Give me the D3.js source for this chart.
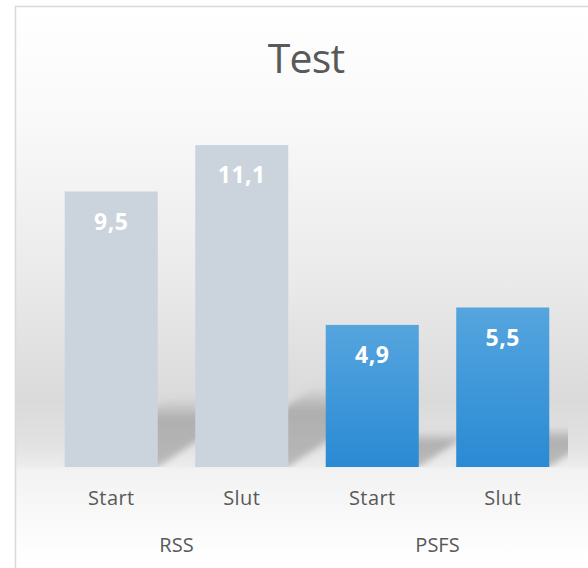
<!DOCTYPE html>
<html>
<head>
<meta charset="utf-8">
<script src="https://cdn.jsdelivr.net/npm/d3@7"></script>
<style>
  body { margin: 0; background: #fff; }
  svg { display: block; font-family: "Open Sans", sans-serif; }
</style>
</head>
<body>
<div id="chart"></div>
<script>
// chart values
const categories = ['Start', 'Slut', 'Start', 'Slut'];
const groupNames = ['RSS', 'PSFS'];
const barGroup = [0, 0, 1, 1];
const values = [9.5, 11.1, 4.9, 5.5];
const title = 'Test';

const width = 588, height = 568;
const plot = {left: 46, right: 568, top: 119, bottom: 467};

const svg = d3.select('#chart').append('svg')
    .attr('width', width)
    .attr('height', height);

const defs = svg.append('defs');

// background gradient of the chart area
const bg = defs.append('linearGradient')
    .attr('id', 'bg')
    .attr('gradientUnits', 'userSpaceOnUse')
    .attr('x1', 0).attr('x2', 0).attr('y1', 7).attr('y2', 568);
[[7, '#ffffff'], [120, '#f9f9f9'], [280, '#eaeaea'], [400, '#dadada'],
 [445, '#e2e2e2'], [466, '#ececec'], [469, '#f2f2f2'], [560, '#ffffff']]
    .forEach(function(s) {
        bg.append('stop').attr('offset', (s[0] - 7) / (568 - 7)).attr('stop-color', s[1]);
    });

const blue = defs.append('linearGradient')
    .attr('id', 'blue')
    .attr('x1', 0).attr('x2', 0).attr('y1', 0).attr('y2', 1);
blue.append('stop').attr('offset', 0).attr('stop-color', '#55a5de');
blue.append('stop').attr('offset', 1).attr('stop-color', '#2a8ad4');

const shade = defs.append('linearGradient')
    .attr('id', 'shade')
    .attr('x1', 0).attr('x2', 0).attr('y1', 0).attr('y2', 1);
shade.append('stop').attr('offset', 0).attr('stop-color', '#8a8a8a').attr('stop-opacity', 0);
shade.append('stop').attr('offset', 0.3).attr('stop-color', '#8a8a8a').attr('stop-opacity', 0.55);
shade.append('stop').attr('offset', 1).attr('stop-color', '#8a8a8a').attr('stop-opacity', 0.5);

defs.append('filter')
    .attr('id', 'blur')
    .attr('x', '-30%').attr('y', '-30%').attr('width', '160%').attr('height', '160%')
    .append('feGaussianBlur').attr('stdDeviation', 3);

defs.append('clipPath').attr('id', 'plotclip')
    .append('rect')
    .attr('x', plot.left).attr('y', 0)
    .attr('width', plot.right - plot.left).attr('height', plot.bottom);

// chart box
svg.append('rect')
    .attr('x', 15.5).attr('y', 6.5)
    .attr('width', 600).attr('height', 600)
    .attr('fill', 'url(#bg)')
    .attr('stroke', '#d9d9d9')
    .attr('stroke-width', 1.5);

const x = d3.scaleBand()
    .domain(d3.range(values.length))
    .range([plot.left, plot.right])
    .paddingInner(0.287)
    .paddingOuter(0.1435);

const y = d3.scaleLinear()
    .domain([0, 12])
    .range([plot.bottom, plot.top]);

// perspective shadows behind bars
svg.append('g')
    .attr('clip-path', 'url(#plotclip)')
    .selectAll('path')
    .data(values)
    .enter()
    .append('path')
    .attr('fill', 'url(#shade)')
    .attr('filter', 'url(#blur)')
    .attr('d', function(d, i) {
        const x0 = x(i), x1 = x(i) + x.bandwidth();
        const sh = (y(0) - y(d)) * 0.25;
        const k = sh * 1.5;
        return 'M' + x0 + ',' + y(0) + 'L' + x1 + ',' + y(0) +
            'L' + (x1 + k) + ',' + (y(0) - sh) + 'L' + (x0 + k) + ',' + (y(0) - sh) + 'Z';
    });

// bars
svg.append('g')
    .selectAll('rect')
    .data(values)
    .enter()
    .append('rect')
    .attr('x', function(d, i) { return x(i); })
    .attr('y', function(d) { return y(d); })
    .attr('width', x.bandwidth())
    .attr('height', function(d) { return y(0) - y(d); })
    .attr('fill', function(d, i) { return barGroup[i] === 0 ? '#cbd3dd' : 'url(#blue)'; });

// value labels
const fmt = function(v) { return d3.format('.1f')(v).replace('.', ','); };
svg.append('g')
    .selectAll('text')
    .data(values)
    .enter()
    .append('text')
    .attr('x', function(d, i) { return x(i) + x.bandwidth() / 2; })
    .attr('y', function(d) { return y(d) + 38; })
    .attr('text-anchor', 'middle')
    .attr('font-size', '23px')
    .attr('font-weight', 'bold')
    .attr('letter-spacing', '0.5px')
    .attr('fill', '#ffffff')
    .text(fmt);

// category axis
const xAxis = d3.axisBottom(x)
    .tickSize(0)
    .tickPadding(0)
    .tickFormat(function(i) { return categories[i]; });

const axisG = svg.append('g')
    .attr('transform', 'translate(0,' + plot.bottom + ')')
    .call(xAxis);
axisG.select('.domain').remove();
axisG.selectAll('text')
    .attr('dy', null)
    .attr('y', 38)
    .attr('font-family', '"Open Sans", sans-serif')
    .attr('font-size', '20px')
    .attr('letter-spacing', '0.4px')
    .attr('fill', '#595959');

// group labels
svg.append('g')
    .selectAll('text')
    .data(groupNames)
    .enter()
    .append('text')
    .attr('x', function(g, gi) {
        const idx = d3.range(values.length).filter(function(i) { return barGroup[i] === gi; });
        return (x(idx[0]) + x(idx[idx.length - 1]) + x.bandwidth()) / 2;
    })
    .attr('y', 552)
    .attr('text-anchor', 'middle')
    .attr('font-size', '20px')
    .attr('fill', '#595959')
    .text(function(g) { return g; });

// title
svg.append('text')
    .attr('x', 306)
    .attr('y', 73)
    .attr('text-anchor', 'middle')
    .attr('font-size', '41px')
    .attr('letter-spacing', '-0.8px')
    .attr('fill', '#595959')
    .text(title);
</script>
</body>
</html>
